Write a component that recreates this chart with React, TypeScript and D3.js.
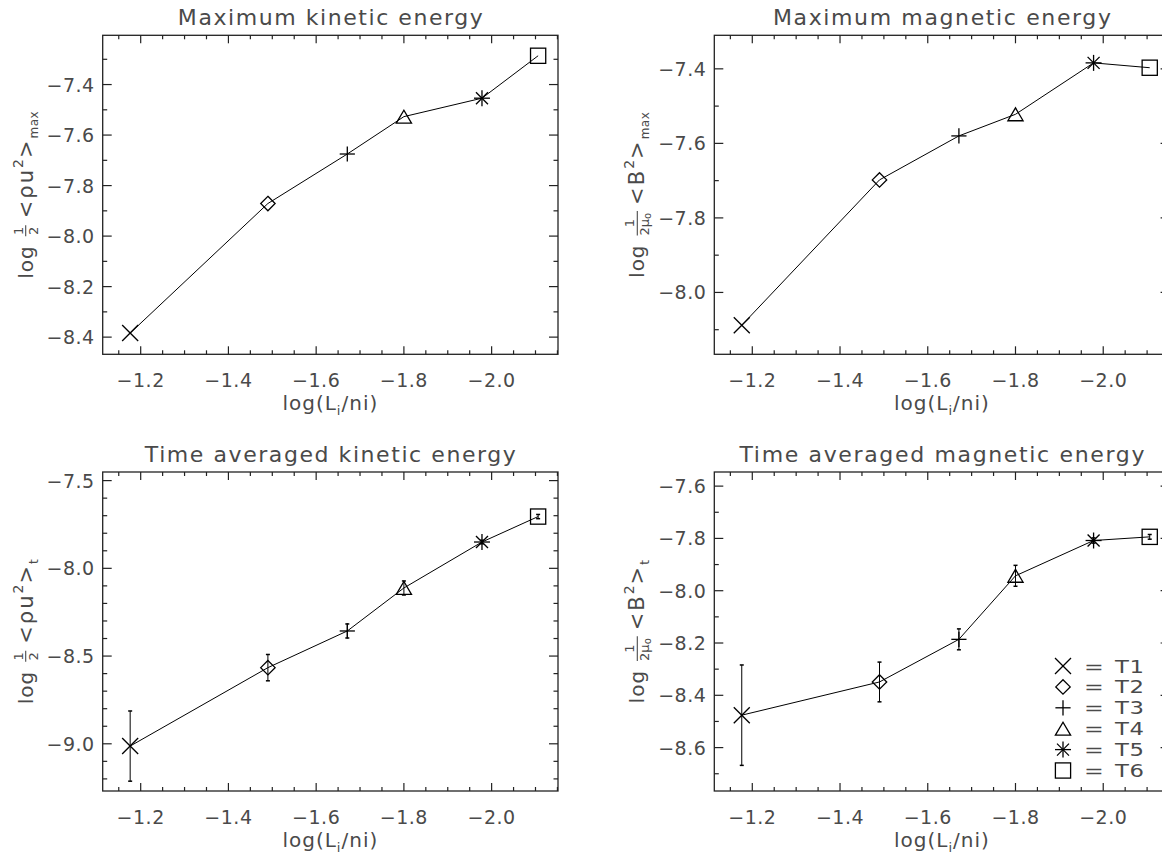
import React, { useEffect, useRef } from "react";
import * as d3 from "d3";

// ---------- data ----------
const runs = ["T1", "T2", "T3", "T4", "T5", "T6"];
const markers = ["x", "diamond", "plus", "triangle", "asterisk", "square"];
const logLiNi = [-1.176, -1.49, -1.671, -1.8, -1.978, -2.106];

const maxKinetic = [-8.384, -7.871, -7.675, -7.527, -7.454, -7.286];
const maxMagnetic = [-8.088, -7.698, -7.58, -7.522, -7.384, -7.397];
const avgKinetic = [-9.013, -8.566, -8.357, -8.112, -7.85, -7.705];
const avgKineticErr = [0.2, 0.075, 0.04, 0.04, 0.01, 0.012];
const avgMagnetic = [-8.476, -8.349, -8.186, -7.943, -7.808, -7.794];
const avgMagneticErr = [0.192, 0.076, 0.04, 0.04, 0.01, 0.009];

const xMajorTicks = [-1.2, -1.4, -1.6, -1.8, -2.0];
const yMajorTL = [-7.4, -7.6, -7.8, -8.0, -8.2, -8.4];
const yMajorTR = [-7.4, -7.6, -7.8, -8.0];
const yMajorBL = [-7.5, -8.0, -8.5, -9.0];
const yMajorBR = [-7.6, -7.8, -8.0, -8.2, -8.4, -8.6];

const titles = [
  "Maximum kinetic energy",
  "Maximum magnetic energy",
  "Time averaged kinetic energy",
  "Time averaged magnetic energy",
];

// ---------- layout ----------
const W = 1162;
const H = 854;
const FONT = "'DejaVu Sans', 'Liberation Sans', sans-serif";
const TEXT = "#4a4a4a";

type Panel = {
  title: string;
  titleLen: number;
  x0: number; x1: number; y0: number; y1: number;
  yDomain: [number, number];
  yMajor: number[];
  yMinorStep: number;
  values: number[];
  errs: number[] | null;
  kind: "kin" | "mag";
  sub: string;
  legend: boolean;
};

const panels: Panel[] = [
  { title: titles[0], titleLen: 305, x0: 102.7, x1: 558, y0: 35.3, y1: 354.3,
    yDomain: [-8.468, -7.205], yMajor: yMajorTL, yMinorStep: 0.1,
    values: maxKinetic, errs: null, kind: "kin", sub: "max", legend: false },
  { title: titles[1], titleLen: 338, x0: 714.3, x1: 1169.6, y0: 35.3, y1: 354.3,
    yDomain: [-8.166, -7.31], yMajor: yMajorTR, yMinorStep: 0.1,
    values: maxMagnetic, errs: null, kind: "mag", sub: "max", legend: false },
  { title: titles[2], titleLen: 371, x0: 102.7, x1: 558, y0: 472, y1: 791,
    yDomain: [-9.269, -7.451], yMajor: yMajorBL, yMinorStep: 0.1,
    values: avgKinetic, errs: avgKineticErr, kind: "kin", sub: "t", legend: false },
  { title: titles[3], titleLen: 405, x0: 714.3, x1: 1169.6, y0: 472, y1: 791,
    yDomain: [-8.766, -7.546], yMajor: yMajorBR, yMinorStep: 0.1,
    values: avgMagnetic, errs: avgMagneticErr, kind: "mag", sub: "t", legend: true },
];

const xDomain: [number, number] = [-1.1134, -2.1513];

function drawMarker(g: any, type: string, cx: number, cy: number, s = 8) {
  const line = (x1: number, y1: number, x2: number, y2: number) =>
    g.append("line").attr("x1", x1).attr("y1", y1).attr("x2", x2).attr("y2", y2)
      .attr("stroke", "#000").attr("stroke-width", 1.3);
  if (type === "x") {
    line(cx - s, cy - s, cx + s, cy + s);
    line(cx - s, cy + s, cx + s, cy - s);
  } else if (type === "plus") {
    const h = s * 0.95;
    line(cx - h, cy, cx + h, cy);
    line(cx, cy - h, cx, cy + h);
  } else if (type === "asterisk") {
    line(cx - s, cy, cx + s, cy);
    line(cx, cy - s, cx, cy + s);
    const d = s * 0.75;
    line(cx - d, cy - d, cx + d, cy + d);
    line(cx - d, cy + d, cx + d, cy - d);
  } else if (type === "diamond") {
    const h = s * 0.9;
    g.append("path")
      .attr("d", `M${cx},${cy - h}L${cx + h},${cy}L${cx},${cy + h}L${cx - h},${cy}Z`)
      .attr("fill", "none").attr("stroke", "#000").attr("stroke-width", 1.3);
  } else if (type === "triangle") {
    const h = s * 0.95;
    g.append("path")
      .attr("d", `M${cx - h},${cy + h * 0.85}L${cx},${cy - h * 0.85}L${cx + h},${cy + h * 0.85}Z`)
      .attr("fill", "none").attr("stroke", "#000").attr("stroke-width", 1.3);
  } else if (type === "square") {
    const h = s * 0.95;
    g.append("rect").attr("x", cx - h).attr("y", cy - h).attr("width", 2 * h).attr("height", 2 * h)
      .attr("fill", "none").attr("stroke", "#000").attr("stroke-width", 1.3);
  }
}

function drawYLabel(svg: any, p: Panel) {
  const cy = (p.y0 + p.y1) / 2;
  const bx = p.x0 - 70;
  const g = svg.append("g").attr("transform", `translate(${bx},${cy}) rotate(-90)`);
  const inner = g.append("g");
  let u = 0;
  const put = (t: string, size: number, dy = 0, anchor = "start", x?: number, ls = 0) => {
    const el = inner.append("text").attr("x", x ?? u).attr("y", dy)
      .attr("font-family", FONT).attr("font-size", size).attr("fill", TEXT)
      .attr("letter-spacing", ls)
      .attr("text-anchor", anchor).text(t);
    return (el.node() as SVGTextElement).getComputedTextLength();
  };
  u += put("log", 20, 0, "start", undefined, 1);
  u += 9;
  if (p.kind === "kin") {
    const w = 11;
    const c = u + w / 2;
    put("1", 13, -10, "middle", c);
    inner.append("line").attr("x1", u).attr("x2", u + w).attr("y1", -7).attr("y2", -7)
      .attr("stroke", TEXT).attr("stroke-width", 1.1);
    put("2", 13, 5, "middle", c);
    u += w + 7;
  } else {
    const tmp = inner.append("text").attr("font-family", FONT).attr("font-size", 13).text("2μ");
    const wd = (tmp.node() as SVGTextElement).getComputedTextLength();
    tmp.remove();
    const w = wd + 8;
    put("1", 13, -10, "middle", u + w / 2);
    inner.append("line").attr("x1", u).attr("x2", u + w).attr("y1", -7).attr("y2", -7)
      .attr("stroke", TEXT).attr("stroke-width", 1.1);
    put("2μ", 13, 5, "start", u);
    put("o", 10, 7, "start", u + wd);
    u += w + 6;
  }
  u += put(p.kind === "kin" ? "<ρu" : "<B", 21, 0, "start", undefined, 2);
  u += put("2", 14, -10, "start", undefined, 1);
  u += put(">", 21, 0, "start", undefined, 2);
  u += put(p.sub, 12, 5, "start", undefined, 0.5);
  inner.attr("transform", `translate(${-u / 2},0)`);
}

function drawPanel(svg: any, p: Panel) {
  const x = d3.scaleLinear().domain(xDomain).range([p.x0, p.x1]);
  const y = d3.scaleLinear().domain(p.yDomain).range([p.y1, p.y0]);
  const g = svg.append("g");
  const axisColor = "#222";

  g.append("rect").attr("x", p.x0).attr("y", p.y0).attr("width", p.x1 - p.x0).attr("height", p.y1 - p.y0)
    .attr("fill", "none").attr("stroke", axisColor).attr("stroke-width", 1.3);

  const tick = (x1: number, y1: number, x2: number, y2: number) =>
    g.append("line").attr("x1", x1).attr("y1", y1).attr("x2", x2).attr("y2", y2)
      .attr("stroke", axisColor).attr("stroke-width", 1.2);

  // x ticks
  const xMinor = d3.range(23, 44).map((i) => -i * 0.05);
  xMinor.forEach((v) => {
    const isMajor = xMajorTicks.some((m) => Math.abs(m - v) < 1e-6);
    const len = isMajor ? 8 : 4;
    const px = x(v);
    if (px < p.x0 - 0.5 || px > p.x1 + 0.5) return;
    tick(px, p.y1, px, p.y1 - len);
    tick(px, p.y0, px, p.y0 + len);
  });
  const fmt = d3.format(".1f");
  xMajorTicks.forEach((v) => {
    g.append("text").attr("x", x(v)).attr("y", p.y1 + 33)
      .attr("text-anchor", "middle").attr("font-family", FONT).attr("font-size", 19)
      .attr("letter-spacing", 0.5)
      .attr("fill", TEXT).text(fmt(v));
  });

  // y ticks
  const [lo, hi] = p.yDomain;
  const n0 = Math.ceil(lo / p.yMinorStep - 1e-6);
  const n1 = Math.floor(hi / p.yMinorStep + 1e-6);
  d3.range(n0, n1 + 1).map((i) => i * p.yMinorStep).forEach((v) => {
    const isMajor = p.yMajor.some((m) => Math.abs(m - v) < 1e-6);
    const len = isMajor ? 9 : 4.5;
    const py = y(v);
    tick(p.x0, py, p.x0 + len, py);
    tick(p.x1, py, p.x1 - len, py);
  });
  p.yMajor.forEach((v) => {
    g.append("text").attr("x", p.x0 - 8).attr("y", y(v) + 7)
      .attr("text-anchor", "end").attr("font-family", FONT).attr("font-size", 19)
      .attr("letter-spacing", 0.5)
      .attr("fill", TEXT).text(fmt(v));
  });

  // title
  g.append("text").attr("x", (p.x0 + p.x1) / 2).attr("y", p.y0 - 10)
    .attr("text-anchor", "middle").attr("font-family", FONT).attr("font-size", 22)
    .attr("fill", TEXT).attr("textLength", p.titleLen).attr("lengthAdjust", "spacing")
    .text(p.title);

  // x title
  const xt = g.append("text").attr("x", (p.x0 + p.x1) / 2).attr("y", p.y1 + 56)
    .attr("text-anchor", "middle").attr("font-family", FONT).attr("font-size", 20)
    .attr("letter-spacing", 1)
    .attr("fill", TEXT);
  xt.append("tspan").text("log(L");
  xt.append("tspan").attr("font-size", 13).attr("dy", 5).text("i");
  xt.append("tspan").attr("dy", -5).text("/ni)");

  drawYLabel(svg, p);

  // line
  const pts = logLiNi.map((xv, i) => [x(xv), y(p.values[i])] as [number, number]);
  g.append("path").attr("d", d3.line()(pts)).attr("fill", "none")
    .attr("stroke", "#000").attr("stroke-width", 1);

  // error bars
  if (p.errs) {
    p.errs.forEach((e, i) => {
      const px = x(logLiNi[i]);
      const ya = y(p.values[i] + e);
      const yb = y(p.values[i] - e);
      tick(px, ya, px, yb).attr("stroke", "#000").attr("stroke-width", 1);
      tick(px - 2, ya, px + 2, ya).attr("stroke", "#000").attr("stroke-width", 1.5);
      tick(px - 2, yb, px + 2, yb).attr("stroke", "#000").attr("stroke-width", 1.5);
    });
  }

  pts.forEach(([px, py], i) => drawMarker(g, markers[i], px, py, 8));

  // legend
  if (p.legend) {
    const rowY = (i: number) => 666 + i * 20.9;
    runs.forEach((r, i) => {
      const cy = rowY(i);
      drawMarker(g, markers[i], 1063, cy, 8);
      g.append("text").attr("transform", `translate(1094,${cy + 6.5}) scale(1.35,1)`)
        .attr("text-anchor", "middle").attr("font-family", FONT).attr("font-size", 17.5)
        .attr("fill", TEXT).text("=");
      g.append("text").attr("transform", `translate(1115,${cy + 6.5}) scale(1.3,1)`)
        .attr("font-family", FONT).attr("font-size", 17.5).attr("letter-spacing", 0.5)
        .attr("fill", TEXT).text(r);
    });
  }
}

export default function App() {
  const ref = useRef<SVGSVGElement>(null);
  useEffect(() => {
    const svg = d3.select(ref.current);
    svg.selectAll("*").remove();
    svg.append("rect").attr("width", W).attr("height", H).attr("fill", "#fff");
    panels.forEach((p) => drawPanel(svg, p));
  }, []);
  return (
    <div style={{ position: "absolute", left: 0, top: 0 }}>
      <svg ref={ref} width={W} height={H} style={{ display: "block" }} />
    </div>
  );
}
